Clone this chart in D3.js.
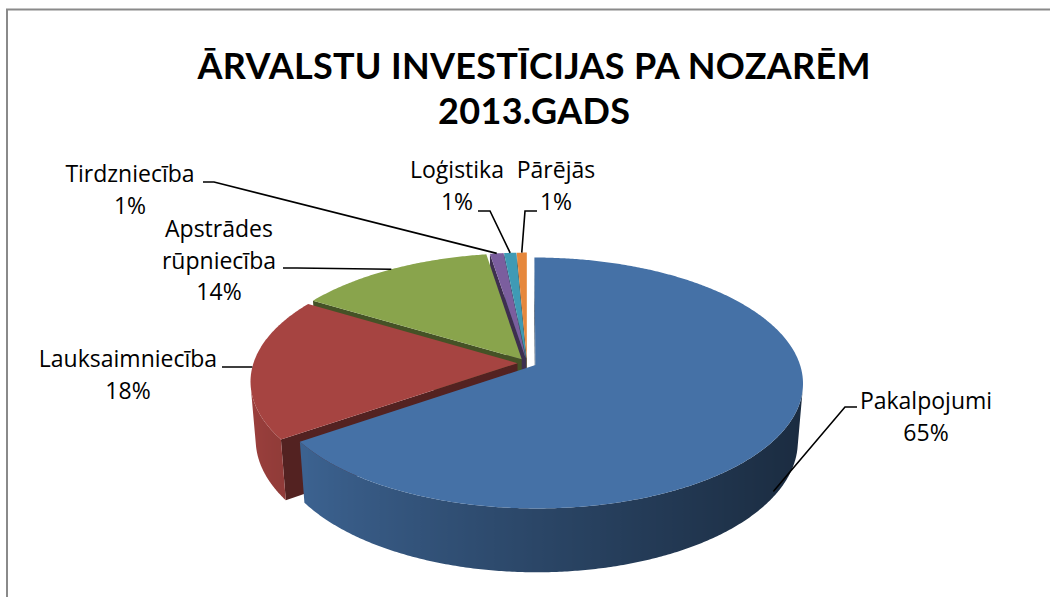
<!DOCTYPE html>
<html><head><meta charset="utf-8">
<script src="https://cdn.jsdelivr.net/npm/d3@7"></script>
<style>html,body{margin:0;padding:0;background:#fff;overflow:hidden}</style>
</head><body><svg id="c" width="1050" height="597"></svg>
<script>
// ---- data ----
const categories = ["Pakalpojumi", "Lauksaimniecība", "Apstrādes rūpniecība", "Tirdzniecība", "Loģistika", "Pārējās"];
const values = [65.3, 18.4, 13.8, 0.95, 0.85, 0.7];
const titleLines = ["ĀRVALSTU INVESTĪCIJAS PA NOZARĒM", "2013.GADS"];
const topColors = ["#4571a6", "#a64441", "#89a44c", "#7b5e9e", "#3f9ab5", "#e6883d"];

// ---- layout ----
const titleLayout = [{y: 79, w: 673}, {y: 124, w: 192}];
const labelLayout = [
  {wrap: false, x: 926, y: 409, lead: [[857, 407], [845, 407]], anchor: {dA: 5, lvl: 0.9}},
  {wrap: false, x: 128, y: 367, lead: [[222, 367], [240, 367]], anchor: {dA: 0, lvl: 0}},
  {wrap: true,  x: 219, y: 237, lead: [[283, 268], [297, 268]], anchor: {dA: 0, lvl: 0}},
  {wrap: false, x: 130, y: 182, lead: [[203, 182], [214, 182]], anchor: {dA: 0, lvl: 0}},
  {wrap: false, x: 457, y: 178, lead: [[478, 211], [490, 211]], anchor: {dA: 0, lvl: 0}},
  {wrap: false, x: 556, y: 178, lead: [[537, 211], [525, 211]], anchor: {dA: 0, lvl: 0}}
];
const lineH = 31.5;

const svg = d3.select("#c");
const defs = svg.append("defs");

// frame
svg.append("path").attr("d", "M7,597 L7,9.5 L1050,9.5")
  .attr("fill", "none").attr("stroke", "#8a8a8a").attr("stroke-width", 2);

// title
titleLines.forEach((t, i) => svg.append("text").attr("text-anchor", "middle")
  .attr("font-family", "Lato, 'Open Sans', sans-serif").attr("font-weight", "bold")
  .attr("font-size", 36).attr("fill", "#000")
  .attr("x", 534).attr("y", titleLayout[i].y)
  .attr("textLength", titleLayout[i].w).attr("lengthAdjust", "spacing")
  .text(t));

// ---- 3D pie projection ----
const R = 264, phi = 27.6 * Math.PI / 180, Dcam = 1640, H = 66, cx = 527, cy = 363, expl = 9.5;
const sp = Math.sin(phi), cp = Math.cos(phi);
const cam = [0, Dcam * sp, -Dcam * cp];
function proj(p) {
  const [X, Y, Z] = p;
  const w = Z * cp - Y * sp;
  const s = Dcam / (Dcam + w);
  return [cx + X * s, cy - (Z * sp + Y * cp) * s];
}
function dist(p) { return Math.hypot(p[0] - cam[0], p[1] - cam[1], p[2] - cam[2]); }
function facing(n, p) { return n[0] * (cam[0] - p[0]) + n[1] * (cam[1] - p[1]) + n[2] * (cam[2] - p[2]) > 0; }
function centroid(pts) { const n = pts.length; return [d3.sum(pts, d => d[0]) / n, d3.sum(pts, d => d[1]) / n, d3.sum(pts, d => d[2]) / n]; }
function shade(c, f) { const r = d3.rgb(c); return d3.rgb(r.r * f, r.g * f, r.b * f).formatHex(); }
function wallLight(t) { return 0.675 - 0.281 * Math.sin(t) + 0.055 * Math.cos(t); }

const arcs = d3.pie().sort(null).value(d => d)(values);

const slices = arcs.map((a, i) => {
  const mid = (a.startAngle + a.endAngle) / 2;
  const ox = expl * Math.sin(mid), oz = expl * Math.cos(mid);
  const pt = (t, r, Y) => [ox + r * Math.sin(t), Y, oz + r * Math.cos(t)];
  return {i, a0: a.startAngle, a1: a.endAngle, mid, pt, color: topColors[i], value: a.data};
});

const line = d3.line();
const faces = [];
slices.forEach(sl => {
  const {a0, a1, pt, color, i} = sl;
  const n = Math.max(4, Math.ceil((a1 - a0) / (Math.PI / 360)));
  const vis = [];
  for (let k = 0; k <= n; k++) {
    const t = a0 + (a1 - a0) * k / n;
    const p = pt(t, R, -H / 2);
    if (facing([Math.sin(t), 0, Math.cos(t)], p)) vis.push(t);
  }
  if (vis.length > 1) {
    const topPts = vis.map(t => pt(t, R, 0));
    const botPts = vis.map(t => pt(t, R, -H)).reverse();
    const poly = topPts.concat(botPts);
    const scr = topPts.map(proj);
    const xs = scr.map(d => d[0]);
    const x0 = d3.min(xs), x1 = d3.max(xs);
    const gid = "wall" + i;
    const grad = defs.append("linearGradient").attr("id", gid).attr("gradientUnits", "userSpaceOnUse")
      .attr("x1", x0).attr("x2", x1 + 0.01).attr("y1", 0).attr("y2", 0);
    const stops = vis.map((t, k) => ({o: (xs[k] - x0) / Math.max(1e-6, x1 - x0), c: shade(color, wallLight(t))}))
      .sort((p, q) => p.o - q.o);
    stops.forEach(s => grad.append("stop").attr("offset", s.o).attr("stop-color", s.c));
    faces.push({pts: poly, fill: `url(#${gid})`, d: dist(centroid(poly))});
  }
  const sq = [pt(a0, 0, 0), pt(a0, R, 0), pt(a0, R, -H), pt(a0, 0, -H)];
  const sc = centroid(sq);
  if (facing([-Math.cos(a0), 0, Math.sin(a0)], sc)) faces.push({pts: sq, fill: shade(color, 0.5), d: dist(sc)});
  const eq = [pt(a1, 0, 0), pt(a1, R, 0), pt(a1, R, -H), pt(a1, 0, -H)];
  const ec = centroid(eq);
  if (facing([Math.cos(a1), 0, -Math.sin(a1)], ec)) faces.push({pts: eq, fill: shade(color, 0.5), d: dist(ec)});
});
faces.sort((p, q) => q.d - p.d);

const g = svg.append("g");
g.selectAll("path.side").data(faces).join("path").attr("class", "side")
  .attr("d", f => line(f.pts.map(proj)) + "Z")
  .attr("fill", f => f.fill);

g.selectAll("path.top").data(slices).join("path").attr("class", "top")
  .attr("d", sl => {
    const n = Math.max(2, Math.ceil((sl.a1 - sl.a0) / (Math.PI / 360)));
    const pts = [sl.pt(0, 0, 0)];
    for (let k = 0; k <= n; k++) pts.push(sl.pt(sl.a0 + (sl.a1 - sl.a0) * k / n, R, 0));
    return line(pts.map(proj)) + "Z";
  })
  .attr("fill", sl => sl.color);

// ---- labels ----
const lg = svg.append("g").attr("font-family", "'Open Sans', sans-serif").attr("font-size", 23).attr("fill", "#000");
slices.forEach(sl => {
  const L = labelLayout[sl.i];
  const an = proj(sl.pt(sl.mid + L.anchor.dA * Math.PI / 180, R, -L.anchor.lvl * H));
  svg.append("path").attr("d", line([...L.lead, an]))
    .attr("fill", "none").attr("stroke", "#000").attr("stroke-width", 1.6);
  const lines = (L.wrap ? categories[sl.i].split(" ") : [categories[sl.i]]).concat([Math.round(sl.value) + "%"]);
  const t = lg.append("text").attr("text-anchor", "middle");
  lines.forEach((s, k) => t.append("tspan").attr("x", L.x).attr("y", L.y + k * lineH).text(s));
});
</script>
</body></html>
